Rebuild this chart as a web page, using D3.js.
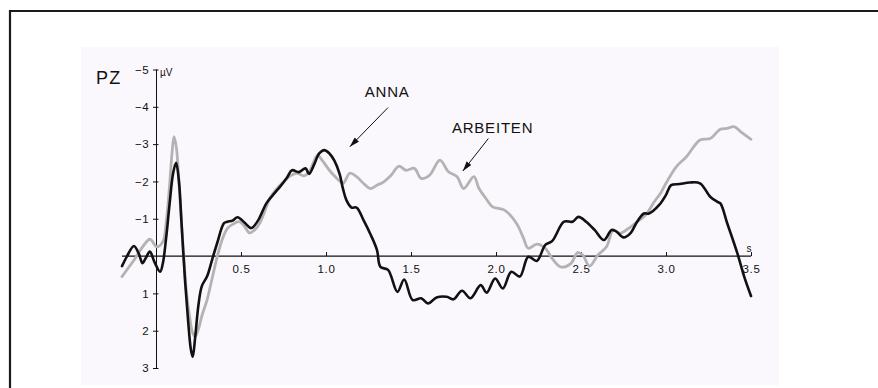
<!DOCTYPE html>
<html>
<head>
<meta charset="utf-8">
<script src="https://cdn.jsdelivr.net/npm/d3@7"></script>
<style>
  html, body { margin: 0; padding: 0; background: #ffffff; overflow: hidden; }
  svg { display: block; }
  text { font-family: "Liberation Sans", Arial, Helvetica, sans-serif; fill: #111; }
</style>
</head>
<body>
<svg id="chart" width="878" height="388"></svg>
<script>
// ERP traces at electrode PZ (µV, negative plotted upward) against time in seconds
const annaTime = [-0.2,-0.17,-0.13,-0.1,-0.08,-0.06,-0.036,-0.01,0.024,0.04,0.06,0.08,0.1,0.118,0.135,0.15,0.17,0.19,0.205,0.216,0.23,0.25,0.27,0.3,0.33,0.36,0.4,0.42,0.45,0.48,0.52,0.56,0.6,0.65,0.7,0.73,0.77,0.8,0.84,0.88,0.9,0.93,0.96,0.99,1.02,1.05,1.08,1.1,1.12,1.15,1.18,1.22,1.26,1.3,1.32,1.365,1.42,1.46,1.51,1.56,1.6,1.65,1.71,1.75,1.8,1.85,1.91,1.945,1.995,2.04,2.09,2.14,2.19,2.24,2.29,2.33,2.4,2.45,2.485,2.53,2.58,2.635,2.68,2.71,2.75,2.79,2.83,2.87,2.9,2.96,3.0,3.03,3.08,3.14,3.2,3.26,3.3,3.32,3.36,3.42,3.46,3.5];
const annaUv = [0.27,0.0,-0.27,-0.05,0.19,0.05,-0.12,0.15,0.42,0.2,-0.5,-1.4,-2.2,-2.5,-2.0,-0.9,0.6,1.8,2.5,2.7,2.2,1.3,0.8,0.55,0.1,-0.35,-0.88,-0.92,-0.95,-1.04,-0.9,-0.75,-0.95,-1.42,-1.7,-1.86,-2.1,-2.3,-2.25,-2.35,-2.2,-2.45,-2.75,-2.84,-2.75,-2.55,-2.2,-1.8,-1.5,-1.3,-1.3,-0.97,-0.6,-0.16,0.29,0.37,0.96,0.63,1.18,1.13,1.27,1.11,1.09,1.16,0.93,1.13,0.78,0.98,0.6,0.87,0.42,0.55,0.02,0.13,-0.3,-0.4,-0.92,-0.92,-1.05,-0.92,-0.7,-0.43,-0.7,-0.65,-0.5,-0.61,-0.92,-1.14,-1.14,-1.37,-1.64,-1.9,-1.93,-1.97,-1.95,-1.59,-1.46,-1.41,-0.88,-0.07,0.55,1.07];

const arbeitenTime = [-0.2,-0.16,-0.13,-0.1,-0.075,-0.035,0.004,0.04,0.06,0.08,0.095,0.106,0.12,0.14,0.16,0.18,0.2,0.215,0.23,0.25,0.27,0.3,0.33,0.36,0.39,0.42,0.45,0.49,0.52,0.55,0.58,0.61,0.64,0.67,0.71,0.75,0.79,0.83,0.87,0.9,0.95,0.98,1.02,1.06,1.1,1.14,1.18,1.22,1.26,1.3,1.34,1.38,1.43,1.47,1.52,1.56,1.61,1.67,1.72,1.77,1.81,1.87,1.9,1.94,1.98,2.05,2.12,2.16,2.19,2.24,2.29,2.33,2.38,2.44,2.48,2.51,2.55,2.6,2.65,2.69,2.73,2.78,2.83,2.88,2.93,2.97,3.0,3.06,3.12,3.2,3.26,3.32,3.36,3.4,3.44,3.5];
const arbeitenUv = [0.55,0.3,0.11,-0.1,-0.27,-0.45,-0.25,-0.38,-0.9,-1.9,-2.8,-3.2,-2.9,-1.6,-0.2,1.0,1.7,2.05,2.16,1.95,1.6,1.18,0.6,0.02,-0.45,-0.74,-0.85,-0.92,-0.8,-0.62,-0.7,-0.88,-1.2,-1.55,-1.8,-1.99,-2.15,-2.22,-2.15,-2.25,-2.7,-2.55,-2.3,-2.1,-1.95,-2.22,-2.13,-1.95,-1.81,-1.9,-1.99,-2.15,-2.41,-2.3,-2.35,-2.08,-2.17,-2.57,-2.26,-2.13,-1.81,-2.13,-1.81,-1.55,-1.32,-1.23,-0.88,-0.5,-0.21,-0.32,-0.21,0.06,0.29,0.2,-0.09,-0.03,0.27,-0.03,-0.25,-0.7,-0.61,-0.74,-0.92,-1.1,-1.45,-1.7,-1.95,-2.39,-2.66,-3.11,-3.15,-3.4,-3.42,-3.47,-3.33,-3.13];

const xTicks = [0.5, 1.0, 1.5, 2.0, 2.5, 3.0, 3.5];
const yTicks = [-5, -4, -3, -2, -1, 0, 1, 2, 3];
const timeDomain = [-0.2, 3.5];
const uvDomain = [-5, 3];

// Word labels with arrows: [label, text t, text µV, arrow start t, µV, arrow end t, µV]
const annotations = [
  ["ANNA",     1.36, -4.27, 1.365, -3.98, 1.14, -2.93],
  ["ARBEITEN", 1.98, -3.30, 1.955, -3.15, 1.805, -2.28]
];

const svg = d3.select("#chart");

// outer frame: top and left rules only
svg.append("line")
  .attr("x1", 9).attr("x2", 878).attr("y1", 11).attr("y2", 11)
  .attr("stroke", "#1a1a1a").attr("stroke-width", 2.2);
svg.append("line")
  .attr("x1", 10).attr("x2", 10).attr("y1", 10).attr("y2", 388)
  .attr("stroke", "#1a1a1a").attr("stroke-width", 2.2);

// plot panel
svg.append("rect")
  .attr("x", 81).attr("y", 47).attr("width", 698).attr("height", 338)
  .attr("fill", "#faf8fc");

const x = d3.scaleLinear().domain([0, 3.5]).range([156, 751]);
const y = d3.scaleLinear().domain(uvDomain).range([69.5, 368]);

// x axis along 0 µV
const xAxisG = svg.append("g").attr("transform", `translate(0,${y(0)})`);
xAxisG.append("line")
  .attr("x1", x(timeDomain[0])).attr("x2", x(timeDomain[1]))
  .attr("stroke", "#111").attr("stroke-width", 1.2);
xAxisG.call(d3.axisBottom(x).tickValues(xTicks).tickSize(0).tickPadding(9).tickFormat(d3.format(".1f")))
  .call(g => g.select(".domain").remove())
  .call(g => g.selectAll(".tick text").attr("font-size", 11.5).attr("letter-spacing", 0.6)
        .attr("font-family", "'Liberation Sans', Arial, sans-serif").attr("fill", "#222"))
  .call(g => g.selectAll(".tick").append("line")
        .attr("y1", 0).attr("y2", -4).attr("stroke", "#111").attr("stroke-width", 1));
xAxisG.append("text")
  .attr("x", x(3.5) - 2).attr("y", -4)
  .attr("font-size", 10).attr("text-anchor", "middle").text("s");

// y axis at t = 0
const yAxisG = svg.append("g").attr("transform", `translate(${x(0)},0)`);
yAxisG.call(d3.axisLeft(y).tickValues(yTicks).tickSize(3).tickPadding(4)
        .tickFormat(d => d === 0 ? "" : d3.format("d")(d)))
  .call(g => g.select(".domain").attr("d", `M0.5,${y(-5)}V${y(3)}`).attr("stroke", "#111").attr("stroke-width", 1))
  .call(g => g.selectAll(".tick line").attr("x1", 2.5).attr("stroke", "#111"))
  .call(g => g.selectAll(".tick").filter(d => d === 0).select("line").remove())
  .call(g => g.selectAll(".tick text").attr("font-size", 11.5).attr("letter-spacing", 0.4)
        .attr("font-family", "'Liberation Sans', Arial, sans-serif").attr("fill", "#222"));
yAxisG.append("text")
  .attr("x", 4).attr("y", y(-5) + 6)
  .attr("text-anchor", "start")
  .attr("font-size", 10).text("\u00b5V");

// electrode label
svg.append("text")
  .attr("x", 96).attr("y", 83.5)
  .attr("font-size", 18).attr("letter-spacing", 1.2).text("PZ");

// traces
const line = d3.line()
  .x(d => x(d[0])).y(d => y(d[1]))
  .curve(d3.curveCatmullRom.alpha(0.5));

const arbeiten = d3.zip(arbeitenTime, arbeitenUv);
const anna = d3.zip(annaTime, annaUv);

svg.append("path").datum(arbeiten)
  .attr("d", line).attr("fill", "none")
  .attr("stroke", "#b3b3b3").attr("stroke-width", 2.8)
  .attr("stroke-linejoin", "round").attr("stroke-linecap", "round");

svg.append("path").datum(anna)
  .attr("d", line).attr("fill", "none")
  .attr("stroke", "#111").attr("stroke-width", 2.6)
  .attr("stroke-linejoin", "round").attr("stroke-linecap", "round");

// arrowhead
svg.append("defs").append("marker")
  .attr("id", "arrowhead").attr("viewBox", "0 0 10 6")
  .attr("refX", 10).attr("refY", 3)
  .attr("markerWidth", 10).attr("markerHeight", 6)
  .attr("markerUnits", "userSpaceOnUse").attr("orient", "auto")
  .append("path").attr("d", "M0,0L10,3L0,6Z").attr("fill", "#111");

annotations.forEach(([label, tt, tv, sx, sy, ex, ey]) => {
  svg.append("text")
    .attr("x", x(tt)).attr("y", y(tv))
    .attr("text-anchor", "middle").attr("font-size", 15).attr("letter-spacing", 0.8)
    .text(label);
  svg.append("line")
    .attr("x1", x(sx)).attr("y1", y(sy)).attr("x2", x(ex)).attr("y2", y(ey))
    .attr("stroke", "#111").attr("stroke-width", 1)
    .attr("marker-end", "url(#arrowhead)");
});
</script>
</body>
</html>
